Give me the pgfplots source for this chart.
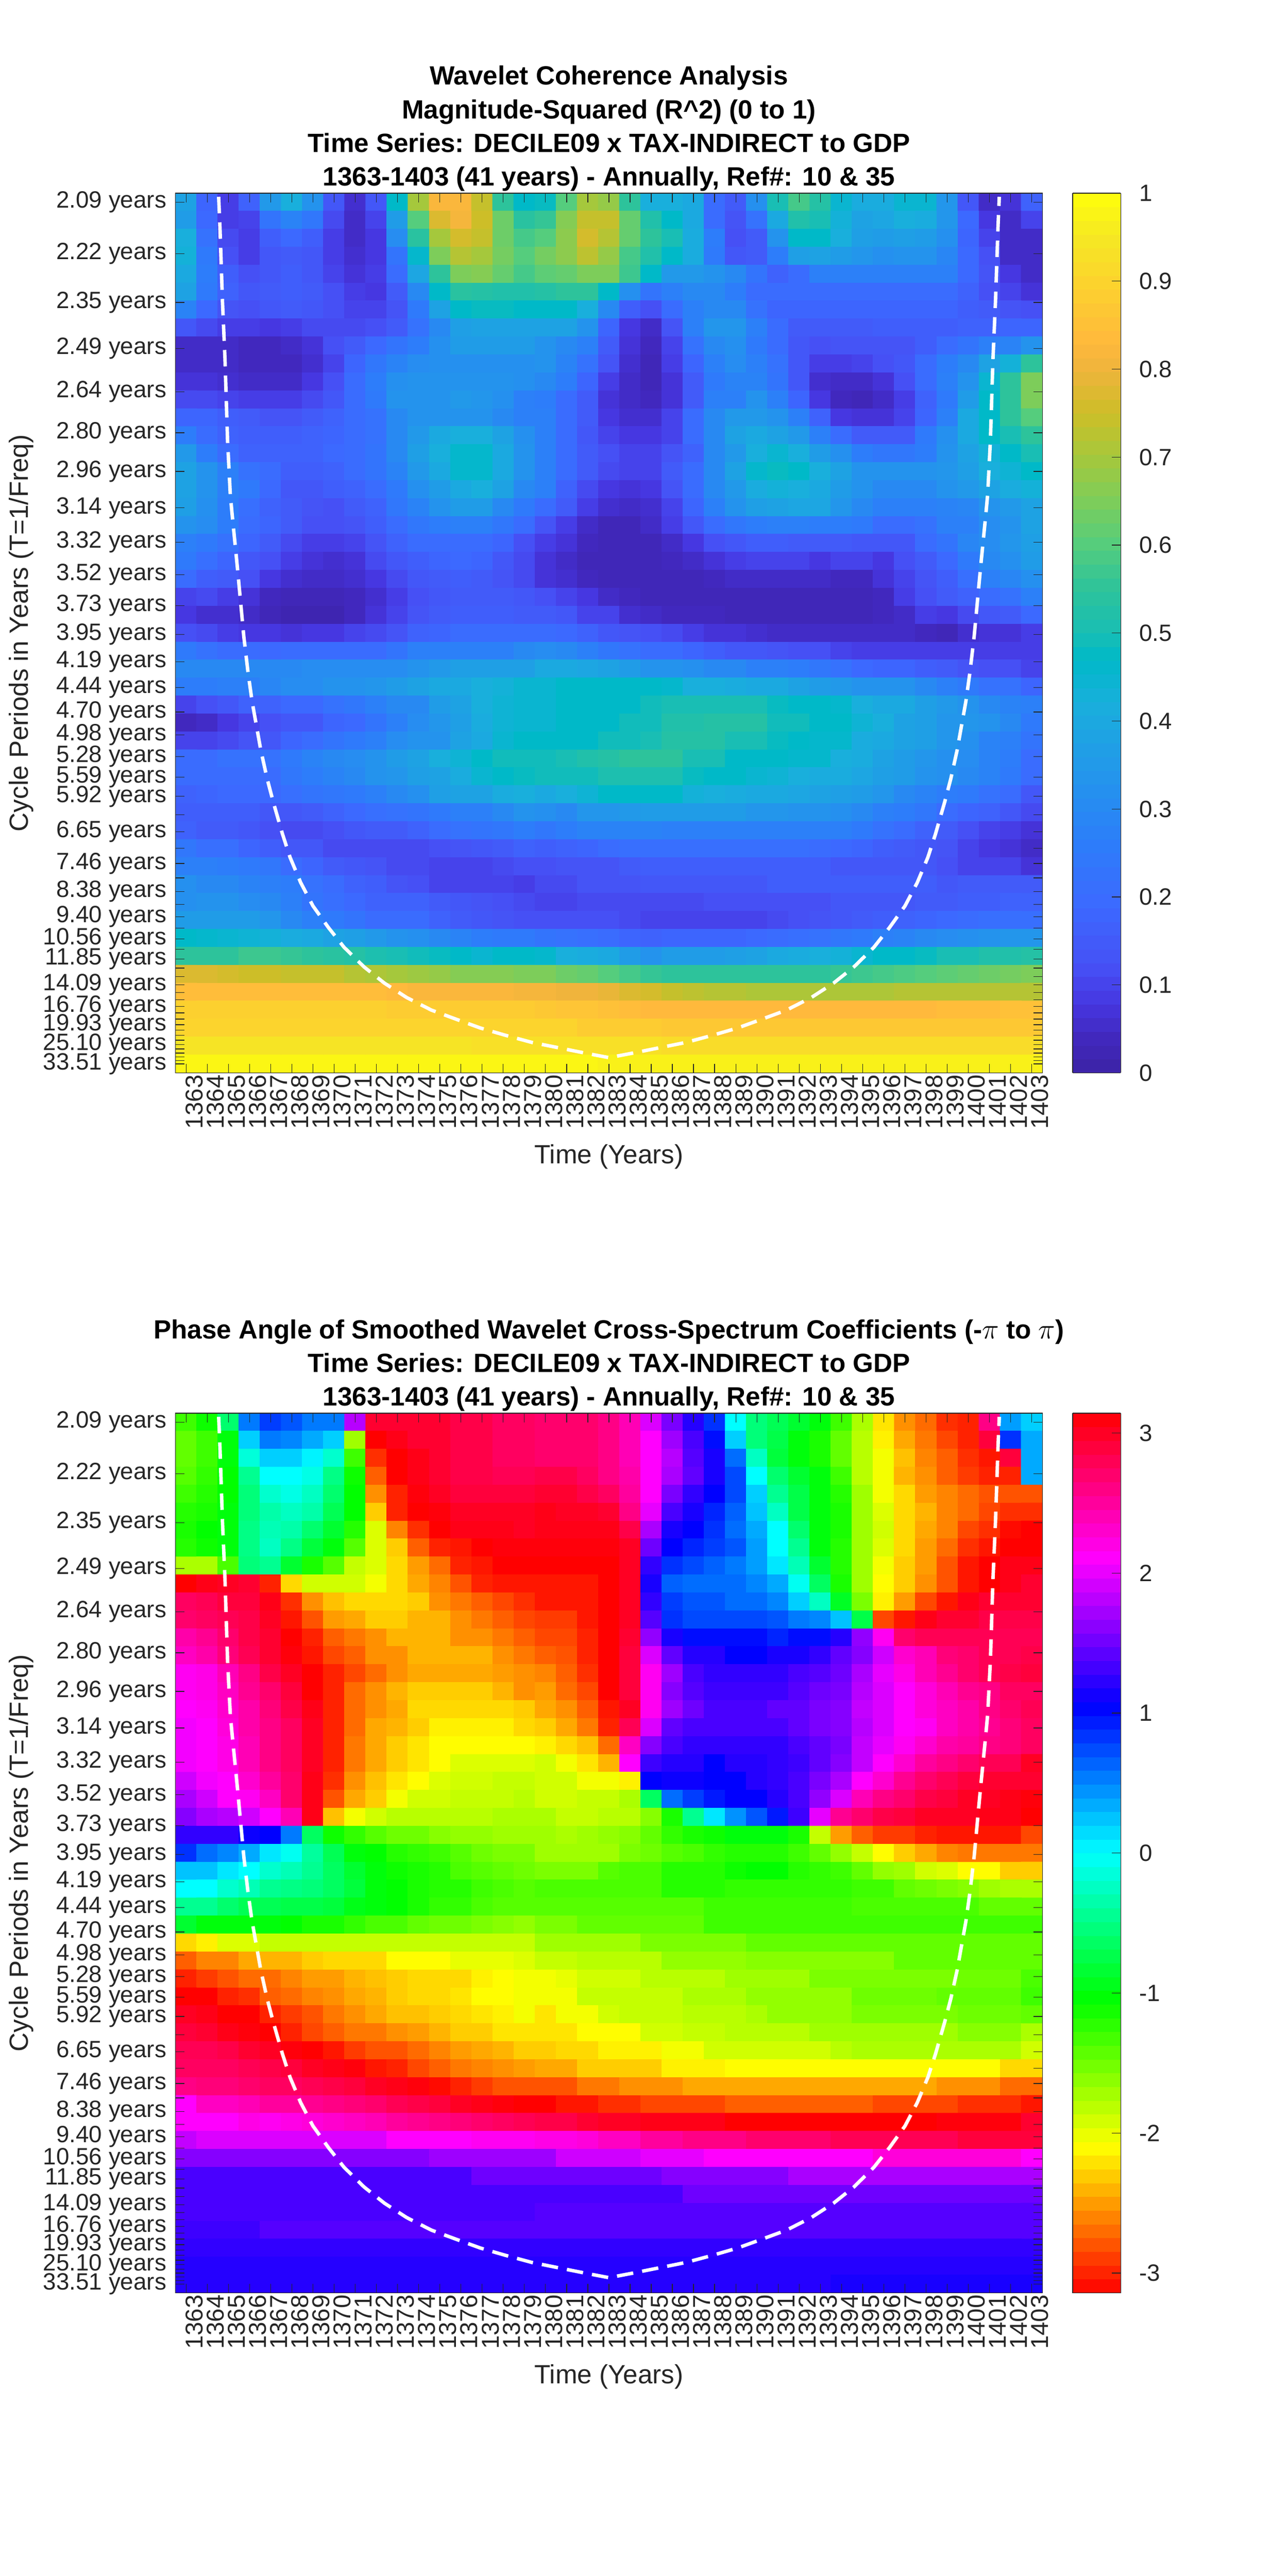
\documentclass[border=0pt]{standalone}
\usepackage{fontspec}
\setmainfont{Liberation Sans}
\usepackage{pgfplots}
\usepackage{pgfplotstable}
\pgfplotsset{compat=1.18}
\definecolor{txt}{rgb}{0.15,0.15,0.15}
\pgfplotsset{
 colormap={parulab}{rgb255(0pt)=(60,35,165) rgb255(4pt)=(65,40,190) rgb255(8pt)=(70,55,225) rgb255(12pt)=(70,80,245) rgb255(19pt)=(60,105,255) rgb255(26pt)=(45,125,250) rgb255(34pt)=(35,150,235) rgb255(42pt)=(25,175,220) rgb255(47pt)=(0,185,200) rgb255(50pt)=(25,190,180) rgb255(55pt)=(45,195,155) rgb255(60pt)=(85,205,125) rgb255(65pt)=(125,205,90) rgb255(70pt)=(165,200,60) rgb255(75pt)=(205,190,40) rgb255(80pt)=(240,180,60) rgb255(83pt)=(255,185,60) rgb255(90pt)=(252,212,45) rgb255(95pt)=(245,232,35) rgb255(100pt)=(255,255,10)},
 colormap={hsvb}{rgb255(0pt)=(255,0,0) rgb255(1pt)=(255,255,0) rgb255(2pt)=(0,255,0) rgb255(3pt)=(0,255,255) rgb255(4pt)=(0,0,255) rgb255(5pt)=(255,0,255) rgb255(6pt)=(255,0,0)},
 wave/.style={
  scale only axis, width=526pt, height=533.75pt,
  xmin=1362.5, xmax=1403.5, ymin=-0.5, ymax=48.5, y dir=reverse,
  axis on top, tick align=inside, major tick length=5.5pt,
  axis line style={color=txt,line width=.5pt}, tick style={color=txt,line width=.4pt},
  xtick={1363,...,1403},
  /pgf/number format/1000 sep={}, /pgf/number format/assume math mode=true,
  xticklabel style={rotate=90,anchor=east,font=\fontsize{14.8}{14.8}\selectfont,text=txt,inner sep=1pt,yshift=-5pt},
  yticklabel style={font=\fontsize{14.3}{14.3}\selectfont,text=txt,xshift=-2pt},
  ytick={0,2.874,5.586,8.146,10.563,12.843,14.996,17.028,18.946,20.756,22.465,24.078,25.6,27.037,28.393,29.673,30.881,32.022,33.098,34.114,35.073,35.978,36.832,37.639,38.4,39.118,39.797,40.437,41.041,41.611,42.149,42.657,43.137,43.589,44.016,44.419,44.8,45.159,45.498,45.818,46.120,46.405,46.675,46.929,47.168,47.395,47.608,47.810,48},
  yticklabels={2.09 years,2.22 years,2.35 years,2.49 years,2.64 years,2.80 years,2.96 years,3.14 years,3.32 years,3.52 years,3.73 years,3.95 years,4.19 years,4.44 years,4.70 years,4.98 years,5.28 years,5.59 years,5.92 years,{},6.65 years,{},7.46 years,{},8.38 years,{},9.40 years,{},10.56 years,{},11.85 years,{},{},14.09 years,{},{},16.76 years,{},{},19.93 years,{},{},{},25.10 years,{},{},{},{},33.51 years},
  xlabel={Time (Years)}, ylabel={Cycle Periods in Years (T=1/Freq)},
  xlabel style={at={(axis description cs:0.5,-0.0955)},anchor=center,font=\fontsize{16}{16}\selectfont,text=txt},
  ylabel style={at={(axis description cs:-0.178,0.5)},anchor=center,font=\fontsize{16}{16}\selectfont,text=txt},
  title style={at={(axis description cs:0.5,1)},anchor=south,align=center,font=\fontsize{16}{20.4}\selectfont\bfseries,text=black,inner sep=1pt,yshift=-6pt},
  colorbar sampled,
 },
 cbstyle/.style={samples=65,at={(parent axis.north east)},anchor=north west,xshift=9.75pt,width=29.25pt,
  ytick pos=right,yticklabel pos=right,tick align=inside,major tick length=5.5pt,
  axis line style={color=txt,line width=.5pt},tick style={color=txt,line width=.4pt},
  yticklabel style={font=\fontsize{14.3}{14.3}\selectfont,text=txt,inner sep=2pt,xshift=9pt}},
}
\newcommand\buildcoords[2]{%
 \gdef#2{}%
 \foreach \r in {0,...,48}{%
  \foreach \yr [count=\c from 0] in {1363,...,1403}{%
   \pgfplotstablegetelem{\r}{[index]\c}\of#1%
   \xdef#2{#2 (\yr,\r) [\pgfplotsretval]}%
  }}}
\pgfplotstableread[header=false]{
.38 .18 .09 .17 .35 .42 .33 .14 .06 .14 .47 .70 .82 .82 .74 .55 .47 .48 .60 .70 .68 .55 .42 .42 .40 .20 .15 .32 .50 .58 .53 .45 .41 .41 .45 .45 .34 .14 .05 .07 .17
.36 .19 .09 .10 .23 .28 .24 .11 .05 .10 .36 .60 .77 .81 .75 .63 .54 .56 .66 .74 .74 .62 .52 .47 .40 .20 .13 .22 .40 .52 .50 .43 .38 .39 .42 .41 .34 .19 .08 .05 .10
.42 .22 .11 .09 .16 .19 .16 .09 .05 .08 .31 .54 .70 .76 .74 .63 .58 .60 .67 .76 .72 .62 .55 .50 .41 .26 .12 .15 .33 .47 .47 .42 .37 .36 .37 .36 .32 .18 .10 .05 .05
.43 .25 .12 .09 .14 .15 .14 .09 .06 .08 .23 .46 .65 .72 .70 .64 .60 .64 .67 .73 .68 .58 .52 .47 .41 .25 .14 .15 .26 .37 .38 .36 .34 .32 .33 .33 .29 .19 .12 .05 .05
.40 .26 .16 .12 .14 .16 .14 .10 .07 .09 .20 .39 .55 .65 .66 .62 .58 .61 .62 .65 .65 .57 .47 .35 .35 .33 .30 .23 .17 .20 .27 .27 .27 .27 .27 .27 .27 .19 .13 .08 .05
.38 .25 .17 .14 .15 .16 .15 .12 .09 .08 .15 .30 .47 .54 .53 .52 .52 .53 .55 .55 .47 .32 .23 .27 .30 .30 .26 .20 .20 .20 .20 .20 .20 .20 .20 .20 .20 .17 .12 .10 .07
.28 .19 .13 .12 .14 .15 .14 .12 .10 .10 .13 .25 .38 .47 .48 .48 .47 .47 .47 .42 .30 .16 .12 .20 .27 .30 .30 .22 .18 .18 .18 .18 .18 .18 .18 .18 .18 .16 .15 .13 .12
.14 .11 .09 .09 .08 .09 .11 .11 .11 .12 .15 .22 .30 .37 .38 .38 .38 .38 .38 .33 .18 .08 .05 .13 .27 .34 .34 .27 .20 .15 .15 .15 .15 .16 .16 .16 .16 .17 .17 .18 .18
.05 .05 .05 .04 .04 .05 .07 .12 .15 .19 .23 .26 .32 .36 .36 .36 .36 .33 .30 .27 .15 .07 .04 .10 .22 .30 .32 .25 .20 .14 .12 .13 .13 .13 .13 .16 .20 .23 .27 .28 .33
.05 .05 .05 .04 .04 .04 .06 .10 .18 .24 .28 .31 .32 .32 .32 .32 .32 .33 .28 .22 .13 .06 .03 .09 .18 .27 .31 .27 .22 .14 .09 .09 .10 .12 .14 .20 .26 .30 .38 .43 .55
.07 .07 .06 .05 .05 .05 .08 .12 .20 .26 .32 .33 .33 .33 .33 .33 .32 .30 .26 .18 .09 .05 .03 .07 .15 .25 .28 .28 .23 .14 .06 .05 .05 .07 .12 .20 .27 .33 .45 .55 .65
.11 .11 .10 .09 .09 .09 .11 .14 .20 .25 .33 .33 .33 .35 .34 .32 .27 .26 .20 .15 .07 .05 .04 .07 .15 .27 .27 .33 .27 .18 .08 .04 .03 .05 .09 .17 .25 .36 .47 .55 .65
.18 .18 .16 .15 .13 .13 .15 .17 .20 .22 .30 .33 .33 .33 .33 .30 .27 .27 .20 .15 .08 .06 .06 .10 .20 .30 .35 .35 .33 .27 .17 .08 .07 .07 .10 .18 .27 .40 .47 .55 .60
.26 .20 .17 .16 .16 .16 .17 .18 .20 .22 .30 .35 .40 .42 .42 .38 .32 .27 .20 .14 .10 .08 .08 .10 .20 .30 .38 .40 .38 .35 .27 .20 .15 .15 .15 .25 .32 .40 .47 .50 .55
.35 .26 .20 .17 .17 .17 .17 .19 .20 .23 .30 .37 .42 .46 .46 .40 .33 .27 .20 .15 .12 .10 .10 .13 .17 .30 .35 .42 .45 .42 .36 .32 .26 .24 .24 .26 .33 .38 .43 .47 .50
.38 .33 .27 .22 .20 .16 .16 .17 .20 .23 .28 .35 .40 .46 .46 .40 .33 .27 .20 .15 .11 .10 .10 .15 .20 .30 .38 .46 .48 .47 .42 .38 .33 .33 .33 .33 .34 .37 .42 .44 .47
.38 .33 .27 .25 .19 .14 .14 .16 .17 .20 .25 .32 .36 .40 .42 .38 .30 .27 .17 .11 .08 .07 .08 .13 .20 .30 .35 .41 .43 .42 .40 .36 .33 .30 .30 .30 .33 .35 .38 .41 .43
.37 .32 .26 .21 .17 .15 .13 .12 .15 .17 .24 .28 .33 .36 .36 .30 .25 .20 .15 .09 .06 .05 .06 .10 .18 .27 .33 .37 .38 .39 .39 .34 .30 .27 .27 .27 .28 .29 .33 .35 .38
.33 .31 .26 .20 .18 .15 .12 .12 .13 .16 .20 .24 .26 .27 .27 .24 .20 .13 .09 .05 .03 .03 .05 .09 .14 .20 .24 .26 .27 .27 .26 .26 .25 .20 .20 .22 .27 .27 .31 .33 .38
.27 .25 .22 .18 .15 .11 .09 .09 .10 .13 .17 .20 .20 .20 .20 .18 .12 .09 .07 .04 .03 .03 .03 .05 .08 .12 .14 .16 .16 .15 .15 .15 .14 .14 .14 .20 .23 .29 .31 .34 .37
.25 .21 .18 .14 .12 .09 .07 .06 .07 .11 .14 .16 .18 .19 .18 .14 .11 .07 .05 .03 .03 .03 .03 .04 .05 .07 .09 .10 .10 .10 .08 .10 .10 .08 .12 .15 .19 .25 .30 .32 .36
.20 .16 .15 .12 .08 .06 .05 .05 .06 .08 .11 .14 .15 .16 .15 .13 .11 .07 .06 .04 .03 .03 .03 .03 .03 .04 .05 .05 .05 .05 .05 .04 .04 .07 .10 .13 .16 .21 .27 .29 .32
.10 .11 .09 .07 .04 .03 .03 .03 .04 .06 .09 .12 .14 .15 .15 .15 .14 .12 .10 .08 .05 .04 .03 .03 .03 .03 .03 .03 .03 .03 .03 .03 .03 .04 .09 .12 .15 .17 .20 .22 .27
.08 .06 .06 .05 .03 .02 .02 .02 .04 .07 .10 .13 .15 .16 .16 .16 .15 .15 .14 .10 .10 .06 .05 .04 .04 .04 .03 .03 .03 .03 .03 .03 .03 .04 .05 .09 .08 .11 .14 .15 .19
.12 .11 .09 .08 .08 .07 .08 .08 .10 .11 .13 .17 .18 .20 .20 .20 .20 .20 .19 .17 .14 .13 .12 .11 .09 .07 .07 .06 .05 .05 .05 .05 .05 .05 .05 .04 .03 .06 .07 .07 .09
.25 .22 .20 .20 .19 .20 .20 .20 .20 .20 .23 .27 .27 .27 .27 .27 .30 .31 .30 .27 .24 .22 .20 .20 .18 .16 .14 .14 .13 .12 .12 .10 .09 .09 .09 .09 .09 .09 .09 .09 .09
.30 .30 .30 .30 .30 .30 .31 .31 .31 .31 .31 .33 .35 .37 .37 .37 .37 .40 .40 .39 .38 .36 .33 .33 .32 .30 .30 .27 .27 .26 .24 .22 .19 .18 .18 .16 .15 .13 .12 .12 .10
.26 .26 .27 .27 .29 .31 .31 .33 .33 .34 .36 .38 .40 .40 .42 .43 .45 .45 .47 .47 .47 .47 .47 .46 .42 .42 .41 .40 .40 .38 .36 .35 .33 .33 .33 .30 .27 .25 .22 .22 .18
.10 .12 .14 .17 .17 .19 .19 .22 .24 .27 .30 .30 .36 .38 .42 .44 .45 .45 .47 .47 .47 .47 .49 .50 .50 .50 .50 .50 .48 .47 .47 .46 .42 .40 .40 .37 .35 .33 .30 .28 .27
.04 .05 .08 .10 .12 .14 .14 .18 .19 .23 .27 .31 .34 .37 .41 .44 .45 .45 .47 .47 .47 .49 .49 .52 .52 .53 .53 .53 .49 .49 .47 .47 .44 .42 .38 .37 .34 .34 .33 .30 .25
.10 .10 .11 .13 .14 .18 .20 .23 .25 .27 .31 .33 .33 .38 .40 .45 .47 .47 .47 .47 .49 .49 .50 .53 .53 .53 .50 .50 .48 .47 .46 .46 .41 .40 .38 .37 .34 .32 .28 .27 .23
.20 .20 .22 .22 .22 .25 .28 .30 .31 .33 .36 .38 .42 .44 .47 .49 .49 .49 .50 .52 .53 .55 .55 .55 .50 .50 .47 .47 .47 .46 .46 .42 .41 .38 .36 .34 .32 .31 .28 .26 .20
.20 .20 .20 .20 .20 .24 .26 .28 .30 .33 .34 .37 .38 .41 .45 .47 .48 .49 .49 .49 .51 .51 .51 .51 .48 .47 .47 .45 .44 .42 .41 .41 .39 .37 .36 .33 .32 .30 .28 .25 .20
.17 .18 .19 .19 .19 .21 .23 .24 .25 .27 .30 .32 .37 .38 .38 .41 .42 .40 .42 .44 .47 .47 .47 .47 .43 .42 .41 .40 .40 .39 .38 .37 .36 .34 .30 .28 .26 .25 .22 .20 .14
.16 .16 .16 .16 .14 .14 .15 .17 .19 .21 .22 .23 .25 .27 .27 .30 .33 .32 .30 .34 .34 .35 .36 .36 .36 .36 .36 .34 .34 .33 .33 .32 .30 .27 .26 .24 .20 .18 .17 .14 .11
.17 .15 .15 .14 .12 .11 .11 .12 .14 .15 .15 .17 .20 .22 .23 .24 .26 .24 .26 .28 .28 .28 .28 .27 .27 .27 .27 .27 .27 .27 .27 .27 .25 .22 .20 .17 .15 .12 .10 .09 .07
.24 .21 .21 .18 .16 .14 .14 .11 .11 .11 .11 .11 .12 .13 .14 .15 .17 .16 .17 .18 .20 .21 .21 .21 .21 .21 .21 .21 .21 .21 .20 .19 .18 .16 .15 .14 .13 .10 .08 .07 .05
.27 .27 .26 .25 .24 .20 .18 .15 .14 .13 .11 .11 .10 .10 .10 .11 .12 .12 .13 .13 .13 .15 .16 .16 .16 .16 .16 .16 .16 .16 .16 .14 .14 .14 .14 .14 .12 .10 .10 .10 .07
.32 .30 .30 .28 .27 .26 .22 .20 .17 .16 .13 .12 .10 .10 .10 .10 .09 .11 .11 .13 .13 .13 .14 .14 .14 .14 .14 .14 .16 .16 .16 .16 .16 .16 .16 .16 .14 .15 .15 .15 .15
.32 .33 .33 .31 .30 .27 .23 .21 .19 .17 .17 .17 .15 .14 .13 .12 .11 .10 .10 .11 .11 .11 .11 .11 .11 .12 .12 .12 .12 .12 .12 .14 .14 .14 .14 .15 .15 .16 .16 .17 .17
.36 .36 .36 .36 .34 .30 .27 .25 .23 .20 .20 .20 .17 .15 .14 .13 .12 .12 .12 .12 .12 .11 .10 .10 .10 .10 .10 .10 .11 .12 .13 .14 .15 .16 .17 .18 .19 .20 .21 .21 .21
.47 .46 .45 .44 .43 .41 .40 .38 .37 .35 .33 .32 .30 .28 .26 .25 .25 .23 .22 .21 .20 .18 .17 .18 .18 .18 .18 .19 .20 .21 .22 .24 .25 .27 .28 .30 .31 .32 .33 .34 .34
.55 .55 .55 .57 .57 .56 .55 .54 .53 .51 .50 .49 .48 .47 .45 .47 .47 .46 .42 .41 .40 .36 .33 .36 .36 .36 .37 .38 .40 .41 .42 .43 .45 .47 .47 .48 .50 .50 .52 .52 .53
.77 .77 .76 .75 .75 .74 .74 .74 .72 .71 .70 .69 .68 .66 .66 .66 .65 .65 .63 .62 .60 .58 .56 .55 .55 .55 .55 .55 .55 .55 .55 .56 .57 .58 .59 .60 .61 .62 .63 .64 .65
.84 .84 .84 .84 .84 .84 .84 .84 .84 .84 .83 .82 .82 .82 .82 .82 .81 .81 .80 .80 .79 .77 .76 .74 .73 .72 .72 .71 .71 .71 .71 .71 .71 .71 .72 .72 .72 .72 .72 .72 .72
.89 .89 .89 .89 .89 .89 .89 .89 .89 .89 .88 .88 .88 .88 .88 .88 .88 .87 .86 .86 .85 .84 .83 .83 .83 .83 .83 .83 .83 .83 .83 .83 .83 .83 .83 .83 .84 .84 .84 .85 .85
.90 .90 .90 .90 .90 .90 .90 .90 .90 .90 .90 .90 .90 .90 .90 .90 .90 .90 .90 .88 .88 .88 .88 .87 .87 .87 .87 .87 .87 .87 .87 .87 .87 .87 .87 .87 .87 .87 .87 .87 .87
.94 .94 .94 .94 .94 .94 .94 .94 .94 .94 .94 .94 .94 .94 .93 .93 .93 .93 .93 .93 .93 .93 .93 .92 .92 .92 .92 .92 .92 .92 .92 .92 .92 .92 .92 .92 .92 .92 .92 .92 .92
.98 .98 .98 .98 .98 .98 .98 .98 .98 .98 .98 .98 .98 .98 .98 .98 .98 .98 .98 .98 .97 .97 .97 .97 .97 .97 .97 .97 .97 .97 .97 .97 .97 .97 .97 .97 .97 .97 .97 .97 .97
}\tblA
\pgfplotstableread[header=false]{
-1.3 -1.1 -.6 .55 .8 .7 .55 .55 1.8 2.95 2.95 2.95 2.95 2.85 2.85 2.75 2.75 2.7 2.7 2.7 2.6 2.4 1.95 1.55 1.2 .85 0 -.55 -.7 -.85 -1 -1.3 -1.75 -2.2 -2.55 -2.7 -2.95 -3 2.6 .4 .2
-1.45 -1.3 -1 .2 .55 .5 .35 .2 -1.7 -3.14 3.05 2.95 2.95 2.85 2.85 2.75 2.75 2.7 2.7 2.7 2.6 2.4 2.1 1.7 1.35 1 .2 -.55 -.75 -1 -1.15 -1.45 -1.8 -2.15 -2.45 -2.65 -2.85 -3 2.9 .85 .35
-1.45 -1.3 -1 -.15 .2 .2 .05 -.2 -1.3 -2.95 -3.14 3.05 2.95 2.85 2.85 2.75 2.75 2.7 2.7 2.7 2.6 2.4 2.1 1.8 1.4 1.15 .6 -.25 -.8 -1 -1.15 -1.45 -1.8 -2.05 -2.35 -2.6 -2.75 -2.95 -3.05 2.9 .35
-1.4 -1.25 -1.05 -.45 0 0 -.1 -.5 -1.1 -2.75 -3.14 3.05 2.95 2.85 2.85 2.8 2.8 2.85 2.85 2.75 2.6 2.45 2.1 1.75 1.45 1.15 .75 0 -.6 -.85 -1 -1.3 -1.8 -2.05 -2.4 -2.55 -2.75 -2.9 -3 -3 .35
-1.3 -1.2 -1.05 -.55 -.2 -.1 -.25 -.6 -1.05 -2.55 -3 3.1 3 2.9 2.9 2.9 2.9 2.95 2.95 2.85 2.75 2.5 2.1 1.55 1.25 1.05 .75 .2 -.45 -.75 -1 -1.2 -1.7 -2.05 -2.25 -2.5 -2.6 -2.7 -2.8 -2.8 -2.8
-1.2 -1.15 -1 -.55 -.35 -.25 -.35 -.7 -1.05 -2.3 -3 -3.14 3.1 3 3 3 3 3.05 3 3 2.95 2.6 2 1.35 1.15 .9 .65 .25 -.25 -.75 -1 -1.15 -1.7 -1.95 -2.25 -2.4 -2.6 -2.7 -2.85 -2.95 -2.95
-1.15 -1.05 -1 -.5 -.3 -.35 -.6 -.85 -1.2 -1.95 -2.6 -2.95 -3.14 3.05 3.05 3.05 3 3.05 3.05 3.05 3.05 2.85 1.75 1.15 1.05 .85 .6 .35 0 -.6 -1 -1.15 -1.7 -1.9 -2.25 -2.45 -2.6 -2.85 -2.95 -3.1 -3.14
-1.2 -1.1 -1 -.5 -.25 -.5 -.8 -1 -1.4 -1.95 -2.3 -2.75 -3 -3.05 -3.14 3.1 3.1 3.1 3.1 3.1 3.1 3 1.5 1.05 .9 .8 .7 .4 0 -.45 -1 -1.2 -1.7 -1.95 -2.25 -2.5 -2.7 -2.95 -3.05 -3.14 -3.14
-1.75 -1.75 -1.35 -.55 -.45 -.85 -1.15 -1.4 -1.85 -1.95 -2.25 -2.5 -2.7 -3 -3.05 -3.14 -3.14 -3.14 -3.14 -3.14 -3.14 3 1.25 .85 .75 .65 .55 .4 .1 -.3 -.85 -1.2 -1.7 -2.05 -2.3 -2.5 -2.8 -3.05 -3.14 3.05 3.05
-3.14 3.05 3 2.95 -3 -2.25 -1.9 -1.9 -1.9 -2.05 -2.25 -2.45 -2.6 -2.8 -3 -3.05 -3.05 -3.05 -3.05 -3.05 -3.14 3 1.15 .65 .6 .6 .6 .5 .35 -.05 -.65 -1.15 -1.7 -2.1 -2.3 -2.55 -2.8 -3.05 -3.14 3.05 2.95
2.75 2.8 2.9 2.9 3.05 -2.95 -2.55 -2.35 -2.25 -2.25 -2.25 -2.3 -2.55 -2.65 -2.75 -2.85 -2.95 -3.05 -3.05 -3.05 -3.14 3 1.25 .8 .7 .7 .6 .6 .5 .2 -.25 -.9 -1.55 -2.15 -2.5 -2.85 -3.05 3.05 2.95 2.95 2.95
2.7 2.75 2.8 2.85 3 -3.05 -2.8 -2.5 -2.45 -2.3 -2.3 -2.4 -2.4 -2.55 -2.65 -2.75 -2.85 -2.9 -2.9 -3.05 -3.14 3 1.4 .85 .75 .75 .75 .75 .7 .55 .5 .25 -.75 -2.85 -3.05 3.05 2.95 2.95 2.85 2.85 2.85
2.45 2.55 2.7 2.85 2.95 -3.14 -3 -2.75 -2.65 -2.55 -2.4 -2.4 -2.4 -2.55 -2.55 -2.65 -2.75 -2.85 -2.85 -3 -3.14 2.95 1.65 1.15 1 1 1 1 .9 1 1 1.2 1.65 2.15 2.7 2.8 2.8 2.8 2.8 2.8 2.8
2.35 2.45 2.65 2.8 2.95 3.1 -3.05 -2.85 -2.75 -2.55 -2.55 -2.4 -2.4 -2.4 -2.4 -2.55 -2.65 -2.75 -2.8 -3 -3.14 2.9 1.95 1.45 1.2 1.2 1.05 1.05 1.15 1.15 1.25 1.45 1.6 1.9 2.3 2.4 2.65 2.7 2.8 2.8 2.85
2.15 2.2 2.4 2.6 2.85 3 3.14 -3 -2.85 -2.7 -2.55 -2.45 -2.45 -2.45 -2.45 -2.5 -2.55 -2.6 -2.75 -2.95 -3.14 2.9 2.15 1.7 1.35 1.25 1.25 1.25 1.25 1.35 1.4 1.5 1.75 2 2.2 2.4 2.55 2.7 2.8 2.85 2.9
2.15 2.2 2.35 2.55 2.7 2.9 3.14 -3 -2.7 -2.55 -2.4 -2.3 -2.3 -2.3 -2.3 -2.4 -2.55 -2.5 -2.7 -2.85 -3.14 2.9 2.15 1.6 1.4 1.3 1.3 1.3 1.3 1.4 1.5 1.55 1.8 1.95 2.1 2.25 2.4 2.55 2.6 2.75 2.75
2.1 2.15 2.3 2.45 2.65 2.85 3.05 -3 -2.7 -2.55 -2.45 -2.25 -2.25 -2.25 -2.25 -2.25 -2.3 -2.45 -2.55 -2.75 -3.05 3 2.15 1.7 1.5 1.35 1.35 1.35 1.45 1.45 1.55 1.6 1.85 1.95 2.1 2.25 2.35 2.45 2.6 2.7 2.8
2.05 2.1 2.25 2.45 2.6 2.75 3 -3 -2.7 -2.45 -2.4 -2.3 -2.15 -2.15 -2.15 -2.15 -2.25 -2.3 -2.45 -2.65 -3 2.8 1.95 1.45 1.35 1.35 1.35 1.35 1.35 1.45 1.55 1.6 1.8 1.95 2.1 2.15 2.35 2.45 2.55 2.65 2.75
2.05 2.1 2.2 2.4 2.6 2.75 3 -3 -2.65 -2.45 -2.3 -2.2 -2.1 -2.1 -2.1 -2.1 -2.1 -2.15 -2.25 -2.35 -2.7 2.35 1.6 1.35 1.25 1.25 1.25 1.25 1.25 1.35 1.45 1.55 1.85 2 2.15 2.3 2.45 2.5 2.6 2.65 2.75
2.05 2.1 2.2 2.4 2.6 2.75 3 -3 -2.65 -2.45 -2.3 -2.2 -2.1 -1.95 -1.95 -1.95 -1.95 -1.9 -2.05 -2.2 -2.4 2.1 1.3 1.2 1.2 1.05 1.2 1.2 1.25 1.3 1.45 1.6 1.85 2.1 2.3 2.5 2.6 2.7 2.8 2.8 3
1.9 2.05 2.1 2.3 2.5 2.7 3.05 -2.95 -2.55 -2.35 -2.2 -2.1 -1.95 -1.9 -1.9 -1.85 -1.85 -1.9 -1.9 -2.05 -2.05 -2.15 1.05 1.1 1.1 1.05 1.05 1.2 1.25 1.35 1.55 1.75 2.1 2.3 2.55 2.7 2.8 2.9 2.95 2.95 2.95
1.75 1.9 2.1 2.15 2.35 2.7 3.05 -2.8 -2.45 -2.3 -2.05 -1.9 -1.9 -1.85 -1.85 -1.85 -1.8 -1.9 -1.9 -1.85 -1.85 -1.75 -.65 .6 .8 .95 1.05 1.05 1.2 1.35 1.65 1.95 2.4 2.6 2.7 2.85 2.9 3 3 3.05 3.1
1.6 1.75 1.8 1.9 2.1 2.4 3.05 -2.35 -2.05 -1.9 -1.8 -1.8 -1.8 -1.8 -1.8 -1.75 -1.75 -1.75 -1.85 -1.85 -1.8 -1.8 -1.6 -1.15 -.45 .1 .45 .7 .95 1.3 2 2.55 2.7 2.85 2.9 3 3 3 3.05 3.05 3.14
1.25 1.25 1.25 1.1 1.05 .55 -.65 -1.1 -1.25 -1.4 -1.5 -1.5 -1.6 -1.65 -1.65 -1.7 -1.7 -1.7 -1.75 -1.7 -1.65 -1.6 -1.45 -1.25 -1.15 -1.1 -1 -1 -1 -1.15 -1.85 -2.5 -2.75 -2.9 -2.9 -3 -3.05 -3.05 -3.05 -3.05 -2.85
.85 .6 .5 .35 .1 -.05 -.4 -.7 -1 -1.05 -1.2 -1.25 -1.3 -1.4 -1.5 -1.55 -1.55 -1.7 -1.7 -1.7 -1.7 -1.55 -1.5 -1.4 -1.35 -1.25 -1.2 -1.2 -1.2 -1.3 -1.45 -1.65 -1.85 -2.1 -2.3 -2.45 -2.6 -2.65 -2.65 -2.65 -2.65
.25 .25 .1 0 -.2 -.3 -.45 -.65 -.85 -1 -1.1 -1.15 -1.2 -1.35 -1.4 -1.45 -1.5 -1.55 -1.55 -1.55 -1.4 -1.35 -1.35 -1.2 -1.2 -1.2 -1.1 -1.05 -1.05 -1.2 -1.25 -1.3 -1.45 -1.65 -1.7 -1.9 -1.95 -2.1 -2.1 -2.3 -2.3
0 0 -.2 -.3 -.45 -.5 -.55 -.65 -.8 -1 -1.05 -1.15 -1.2 -1.2 -1.3 -1.35 -1.4 -1.35 -1.35 -1.35 -1.35 -1.35 -1.35 -1.2 -1.2 -1.2 -1.25 -1.25 -1.25 -1.25 -1.25 -1.25 -1.3 -1.3 -1.45 -1.5 -1.55 -1.6 -1.7 -1.75 -1.75
-.45 -.45 -.6 -.7 -.7 -.75 -.75 -.8 -.95 -1 -1.05 -1.15 -1.25 -1.25 -1.35 -1.4 -1.4 -1.4 -1.4 -1.4 -1.4 -1.4 -1.4 -1.4 -1.4 -1.3 -1.3 -1.3 -1.3 -1.3 -1.3 -1.3 -1.35 -1.35 -1.35 -1.35 -1.35 -1.35 -1.45 -1.45 -1.45
-.85 -1 -1 -1 -1 -1.05 -1.15 -1.15 -1.25 -1.35 -1.35 -1.45 -1.5 -1.5 -1.55 -1.6 -1.65 -1.55 -1.55 -1.45 -1.45 -1.45 -1.45 -1.45 -1.45 -1.3 -1.3 -1.3 -1.3 -1.3 -1.3 -1.3 -1.3 -1.3 -1.3 -1.3 -1.3 -1.3 -1.3 -1.3 -1.3
-2.25 -2.15 -1.95 -1.95 -1.85 -1.85 -1.85 -1.85 -1.85 -1.85 -1.85 -1.85 -1.85 -1.85 -1.85 -1.85 -1.85 -1.7 -1.7 -1.7 -1.7 -1.7 -1.55 -1.55 -1.55 -1.55 -1.55 -1.45 -1.45 -1.45 -1.45 -1.45 -1.45 -1.45 -1.45 -1.45 -1.45 -1.45 -1.45 -1.45 -1.45
-2.75 -2.6 -2.6 -2.45 -2.4 -2.4 -2.3 -2.25 -2.25 -2.25 -2.1 -2.1 -2.1 -2 -2 -2 -1.95 -1.85 -1.85 -1.8 -1.8 -1.8 -1.8 -1.65 -1.65 -1.65 -1.65 -1.6 -1.6 -1.6 -1.6 -1.6 -1.6 -1.6 -1.45 -1.45 -1.45 -1.45 -1.45 -1.45 -1.45
-3 -2.9 -2.8 -2.7 -2.7 -2.6 -2.5 -2.5 -2.4 -2.35 -2.3 -2.25 -2.25 -2.25 -2.15 -2.1 -2.05 -2.05 -2 -1.9 -1.9 -1.9 -1.8 -1.8 -1.8 -1.8 -1.7 -1.7 -1.7 -1.7 -1.55 -1.55 -1.55 -1.55 -1.55 -1.55 -1.55 -1.5 -1.5 -1.5 -1.35
-3.14 -3.14 -3 -2.95 -2.75 -2.7 -2.6 -2.55 -2.45 -2.4 -2.3 -2.25 -2.25 -2.2 -2.1 -2.1 -2.05 -2.05 -2.05 -1.85 -1.85 -1.85 -1.85 -1.85 -1.75 -1.75 -1.75 -1.65 -1.65 -1.65 -1.65 -1.65 -1.5 -1.5 -1.5 -1.5 -1.45 -1.45 -1.45 -1.45 -1.3
3 3.05 -3.14 -3.14 -3 -2.9 -2.8 -2.65 -2.55 -2.45 -2.35 -2.35 -2.3 -2.25 -2.2 -2.15 -2.05 -2.2 -2.05 -2.05 -1.9 -1.85 -1.85 -1.85 -1.8 -1.8 -1.8 -1.75 -1.65 -1.65 -1.65 -1.65 -1.55 -1.55 -1.55 -1.55 -1.55 -1.5 -1.5 -1.5 -1.45
2.9 2.95 3.05 3.1 3.14 -3 -2.85 -2.75 -2.65 -2.65 -2.55 -2.5 -2.4 -2.3 -2.3 -2.2 -2.2 -2.2 -2.2 -2.1 -2.1 -2.1 -1.9 -1.9 -1.85 -1.85 -1.8 -1.8 -1.8 -1.8 -1.7 -1.7 -1.7 -1.7 -1.7 -1.7 -1.7 -1.6 -1.6 -1.6 -1.75
2.8 2.8 2.85 2.95 3 3.1 3.14 -3.05 -2.9 -2.8 -2.8 -2.7 -2.6 -2.5 -2.45 -2.4 -2.3 -2.3 -2.25 -2.25 -2.15 -2.15 -2.15 -2.05 -2.05 -1.9 -1.9 -1.9 -1.9 -1.9 -1.9 -1.8 -1.75 -1.75 -1.75 -1.75 -1.75 -1.75 -1.75 -1.75 -1.9
2.75 2.75 2.75 2.8 2.85 2.9 3 3.05 3.1 -3.05 -3 -2.85 -2.75 -2.65 -2.6 -2.55 -2.5 -2.45 -2.45 -2.3 -2.3 -2.3 -2.3 -2.15 -2.15 -2.15 -2.1 -2.1 -2.1 -2.1 -2.1 -2.1 -2.1 -2.1 -2.1 -2.1 -2.1 -2.1 -2.1 -2.25 -2.25
2.6 2.65 2.65 2.7 2.75 2.75 2.8 2.85 2.9 3 3.05 3.1 -3.1 -3 -2.9 -2.8 -2.8 -2.8 -2.8 -2.65 -2.65 -2.55 -2.55 -2.55 -2.45 -2.45 -2.45 -2.45 -2.45 -2.45 -2.45 -2.45 -2.45 -2.45 -2.45 -2.45 -2.55 -2.55 -2.55 -2.7 -2.7
2.1 2.35 2.35 2.4 2.5 2.5 2.55 2.6 2.65 2.7 2.8 2.85 2.9 3 3.05 3.1 3.14 -3.14 -3.05 -3.05 -2.95 -2.95 -2.85 -2.85 -2.85 -2.85 -2.75 -2.75 -2.75 -2.75 -2.75 -2.75 -2.75 -2.85 -2.85 -2.85 -2.85 -2.95 -2.95 -2.95 -3.05
2.1 2.1 2.1 2.2 2.15 2.2 2.25 2.3 2.35 2.4 2.5 2.55 2.6 2.65 2.7 2.75 2.8 2.85 2.85 2.95 3 3 3.05 3.05 3.05 3.05 3.14 3.14 3.14 3.14 3.14 3.14 3.14 3.14 3.14 3.14 3.1 3.1 3.1 3.1 2.95
1.85 1.95 1.95 1.95 1.95 1.95 1.95 1.95 1.95 1.95 2.1 2.1 2.1 2.1 2.15 2.15 2.15 2.2 2.2 2.25 2.35 2.35 2.5 2.5 2.6 2.6 2.6 2.7 2.7 2.7 2.7 2.8 2.8 2.8 2.8 2.8 2.8 2.9 2.9 2.9 2.9
1.6 1.6 1.6 1.6 1.6 1.6 1.6 1.6 1.6 1.6 1.6 1.6 1.7 1.7 1.7 1.7 1.7 1.7 1.9 1.9 1.9 1.9 2 2 2 2.1 2.1 2.1 2.1 2.1 2.1 2.1 2.1 2.25 2.25 2.25 2.25 2.25 2.25 2.25 2.1
1.35 1.35 1.35 1.35 1.35 1.35 1.35 1.35 1.35 1.35 1.35 1.35 1.35 1.35 1.5 1.5 1.5 1.5 1.5 1.5 1.5 1.5 1.5 1.6 1.6 1.6 1.6 1.6 1.6 1.75 1.75 1.75 1.75 1.75 1.75 1.75 1.75 1.75 1.75 1.75 1.75
1.35 1.35 1.35 1.35 1.35 1.35 1.35 1.35 1.35 1.35 1.35 1.35 1.35 1.35 1.35 1.35 1.35 1.35 1.35 1.35 1.35 1.35 1.35 1.35 1.5 1.5 1.5 1.5 1.5 1.5 1.5 1.5 1.5 1.5 1.5 1.5 1.5 1.5 1.5 1.5 1.5
1.35 1.35 1.35 1.35 1.35 1.35 1.35 1.35 1.35 1.35 1.35 1.35 1.35 1.35 1.35 1.35 1.35 1.4 1.4 1.4 1.4 1.4 1.4 1.4 1.4 1.4 1.4 1.4 1.4 1.4 1.4 1.4 1.4 1.4 1.4 1.4 1.4 1.4 1.4 1.4 1.4
1.3 1.3 1.3 1.3 1.4 1.4 1.4 1.4 1.4 1.4 1.4 1.4 1.4 1.4 1.4 1.4 1.4 1.4 1.4 1.4 1.4 1.4 1.4 1.4 1.4 1.4 1.4 1.4 1.4 1.4 1.4 1.4 1.4 1.4 1.4 1.4 1.4 1.4 1.4 1.4 1.4
1.25 1.25 1.25 1.25 1.25 1.25 1.25 1.25 1.25 1.25 1.25 1.25 1.25 1.25 1.25 1.25 1.25 1.25 1.25 1.25 1.25 1.25 1.25 1.25 1.25 1.25 1.25 1.25 1.25 1.25 1.25 1.25 1.25 1.25 1.25 1.25 1.25 1.25 1.25 1.25 1.25
1.2 1.2 1.2 1.2 1.2 1.2 1.2 1.2 1.2 1.2 1.2 1.2 1.2 1.2 1.2 1.2 1.2 1.2 1.2 1.2 1.2 1.2 1.2 1.2 1.2 1.2 1.2 1.2 1.2 1.2 1.2 1.2 1.2 1.2 1.2 1.2 1.2 1.2 1.2 1.2 1.2
1.2 1.2 1.2 1.2 1.2 1.2 1.2 1.2 1.2 1.2 1.2 1.2 1.2 1.2 1.2 1.2 1.2 1.2 1.2 1.2 1.2 1.2 1.2 1.2 1.2 1.2 1.2 1.2 1.2 1.2 1.2 1.15 1.15 1.15 1.15 1.15 1.15 1.15 1.15 1.15 1.15
}\tblB
\buildcoords{\tblA}{\coordsA}
\buildcoords{\tblB}{\coordsB}
\def\coi{(1364.54,-0.3)(1364.6,1.34)(1364.72,5.53)(1364.84,8.75)(1364.96,13.25)(1365.09,16.28)(1365.17,17.3)(1365.43,20.4)(1365.73,24.2)(1365.93,26.2)(1366.12,27.8)(1366.53,30.5)(1366.83,32.1)(1367.12,33.4)(1367.56,35.2)(1367.92,36.5)(1368.42,37.9)(1369,39.2)(1369.73,40.4)(1370.47,41.5)(1371.42,42.6)(1372.38,43.5)(1373.43,44.3)(1374.6,45)(1375.75,45.5)(1376.92,46)(1378.09,46.4)(1379.35,46.8)(1380.62,47.1)(1381.89,47.4)(1383,47.65)(1384.11,47.4)(1385.38,47.1)(1386.65,46.8)(1387.91,46.4)(1389.08,46)(1390.25,45.5)(1391.4,45)(1392.57,44.3)(1393.62,43.5)(1394.58,42.6)(1395.53,41.5)(1396.27,40.4)(1397,39.2)(1397.58,37.9)(1398.08,36.5)(1398.44,35.2)(1398.88,33.4)(1399.17,32.1)(1399.47,30.5)(1399.88,27.8)(1400.07,26.2)(1400.27,24.2)(1400.57,20.4)(1400.83,17.3)(1400.91,16.28)(1401.04,13.25)(1401.16,8.75)(1401.28,5.53)(1401.4,1.34)(1401.46,-0.3)}
\begin{document}
\begin{tikzpicture}
\useasboundingbox (0,0) rectangle (781.25pt,1563pt);
\begin{axis}[wave, at={(106.5pt,912pt)}, anchor=south west,
 colormap name=parulab, point meta min=0, point meta max=1,
 title={Wavelet Coherence Analysis\\Magnitude-Squared (R\^{}2) (0 to 1)\\Time Series: DECILE09 x TAX-INDIRECT to GDP\\1363-1403 (41 years) - Annually, Ref\#: 10 \& 35},
 colorbar style={cbstyle,ytick={0,0.1,0.2,0.3,0.4,0.5,0.6,0.7,0.8,0.9,1},yticklabels={0,0.1,0.2,0.3,0.4,0.5,0.6,0.7,0.8,0.9,1}}]
\edef\doplot{\noexpand\addplot[matrix plot*,mesh/cols=41,point meta=explicit] coordinates {\coordsA};}\doplot
\addplot[white,line width=2.1pt,dash pattern=on 10pt off 5.5pt] coordinates {\coi};
\end{axis}
\begin{axis}[wave, at={(106.5pt,171.75pt)}, anchor=south west,
 colormap name=hsvb, point meta min=-3.14159, point meta max=3.14159,
 title={Phase Angle of Smoothed Wavelet Cross-Spectrum Coefficients (-$\pi$ to $\pi$)\\Time Series: DECILE09 x TAX-INDIRECT to GDP\\1363-1403 (41 years) - Annually, Ref\#: 10 \& 35},
 colorbar style={cbstyle,ytick={-3,-2,-1,0,1,2,3},yticklabels={-3,-2,-1,0,1,2,3}}]
\edef\doplot{\noexpand\addplot[matrix plot*,mesh/cols=41,point meta=explicit] coordinates {\coordsB};}\doplot
\addplot[white,line width=2.1pt,dash pattern=on 10pt off 5.5pt] coordinates {\coi};
\end{axis}
\end{tikzpicture}
\end{document}
